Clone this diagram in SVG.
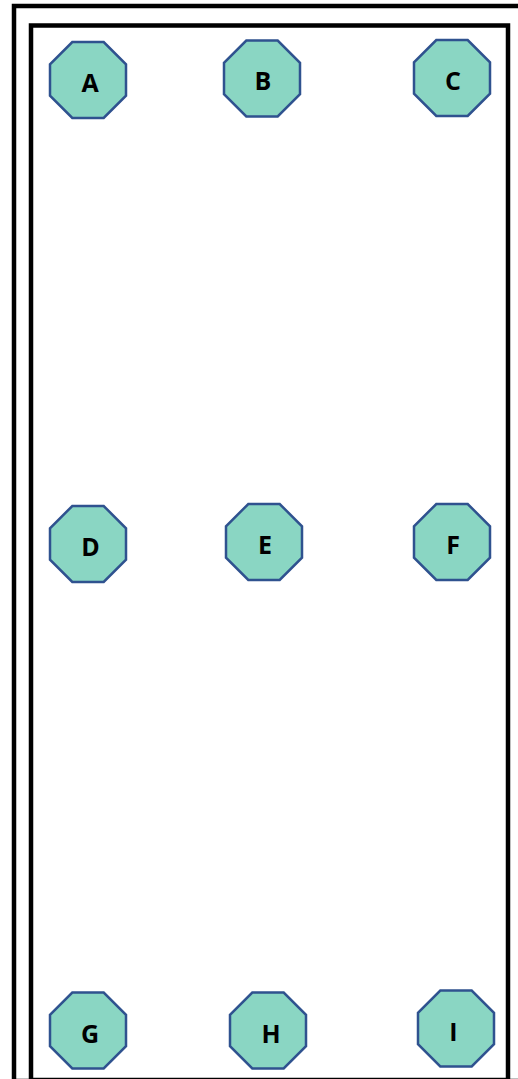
<svg xmlns="http://www.w3.org/2000/svg" width="518" height="1079" viewBox="0 0 518 1079">
  <defs>
    <style>
      .frame { fill: none; stroke: #000; stroke-width: 4.5; }
      .oct { fill: #8AD6C3; stroke: #2F528F; stroke-width: 2.5; }
      .lbl { font-family: "Open Sans", "Liberation Sans", sans-serif; font-weight: 700; font-size: 25px; fill: #000; text-anchor: middle; }
    </style>
    <!-- regular octagon, flat sides, centred on the origin -->
    <polygon id="octagon" points="-15.7,-38 15.7,-38 38,-15.7 38,15.7 15.7,38 -15.7,38 -38,15.7 -38,-15.7"/>
  </defs>

  <rect width="518" height="1079" fill="#fff"/>

  <!-- double border -->
  <g id="frames">
    <rect class="frame" x="14" y="6" width="520" height="1075"/>
    <rect class="frame" x="31" y="25.5" width="477" height="1054.5"/>
  </g>

  <g id="connectors"/>

  <g id="node-A"><use href="#octagon" class="oct" x="88" y="80"/><text class="lbl" x="90" y="92">A</text></g>
  <g id="node-B"><use href="#octagon" class="oct" x="262" y="78.5"/><text class="lbl" x="263" y="89.5">B</text></g>
  <g id="node-C"><use href="#octagon" class="oct" x="452" y="78"/><text class="lbl" x="453" y="90">C</text></g>

  <g id="node-D"><use href="#octagon" class="oct" x="88" y="544"/><text class="lbl" x="90.5" y="556">D</text></g>
  <g id="node-E"><use href="#octagon" class="oct" x="264" y="542"/><text class="lbl" x="265" y="553.5">E</text></g>
  <g id="node-F"><use href="#octagon" class="oct" x="452" y="542"/><text class="lbl" x="453" y="553.5">F</text></g>

  <g id="node-G"><use href="#octagon" class="oct" x="88" y="1030.5"/><text class="lbl" x="90" y="1042.5">G</text></g>
  <g id="node-H"><use href="#octagon" class="oct" x="268" y="1030.5"/><text class="lbl" x="271" y="1043">H</text></g>
  <g id="node-I"><use href="#octagon" class="oct" x="456" y="1028.5"/><text class="lbl" x="453.5" y="1041">I</text></g>
</svg>
